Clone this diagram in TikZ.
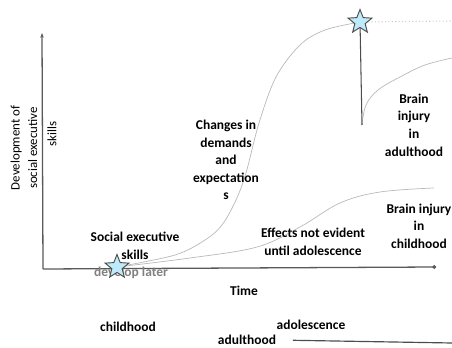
\documentclass[tikz,border=0pt]{standalone}
\usepackage{fontspec}
\setmainfont{Carlito}
\usetikzlibrary{shapes.geometric,arrows.meta,backgrounds}
\begin{document}
\begin{tikzpicture}[x=0.03cm,y=-0.03cm,
  lbl/.style={font=\fontsize{11.5}{15}\selectfont\bfseries, align=center, inner sep=0pt},
  curve/.style={gray!55, line width=0.6pt},
  axis/.style={gray!70!black, line width=1.1pt},
  bluestar/.style={star, star points=5, star point ratio=2.3, minimum size=0.75cm, inner sep=0pt,
                   draw=gray!60!black, fill=cyan!25, line width=0.8pt}]
\useasboundingbox (0,0) rectangle (452,348);
\node[bluestar] (starlow) at (117,267) {};
\node[bluestar] (startop) at (360,22) {};
\coordinate (origin) at (43,269);
\coordinate (ytop) at (42,33);
\coordinate (xend) at (436,267);
\coordinate (dip) at (362,125);
\coordinate (rightedge) at (452,21);
\coordinate (lineend) at (452,343);
\begin{scope}[on background layer]
\draw[axis, -{Stealth[length=4pt]}] (origin) -- (ytop);
\draw[axis, -{Circle[length=3pt]}] (origin) -- (xend);
\node[lbl, text=gray] (later) at (131,273) {develop later};
% curves
\draw[curve] plot[smooth, tension=0.55] coordinates {(starlow) (175,255) (205,240) (222,225) (236,200)
  (246,173) (259,123) (276,77) (300,45) (325,30) (startop)};
\draw[curve] plot[smooth, tension=0.6] coordinates {(starlow) (190,258) (257,247) (300,227) (340,203)
  (380,192) (434,188)};
\draw[curve] plot[smooth, tension=0.6] coordinates {(dip) (366,105) (378,90) (400,77) (425,65) (452,58)};
\draw[gray!40, dotted, line width=0.9pt] (startop) -- (rightedge);
\draw[gray!60!black, line width=0.9pt] (startop) -- (dip);
\end{scope}
% labels
\node[rotate=90, font=\fontsize{11}{15}\selectfont, align=center, inner sep=0pt] (ylab) at (24,148) {Development of\\social executive};
\node[rotate=90, font=\fontsize{11}{15}\selectfont, inner sep=0pt] (skills) at (52,134) {skills};
\node[lbl] (social) at (135,246) {Social executive\\skills};
\node[lbl] (changes) at (226,160) {Changes in\\demands\\and\\expectation\\s};
\node[lbl] (injadult) at (414,125) {Brain\\injury\\in\\adulthood};
\node[lbl] (injchild) at (419,226) {Brain injury\\in\\childhood};
\node[lbl] (effects) at (313,242) {Effects not evident\\until adolescence};
\node[lbl] (time) at (244,291) {Time};
\node[lbl] (childhood) at (128,327) {childhood};
\node[lbl] (adolescence) at (311,325) {adolescence};
\node[lbl] (adulthood) at (247,340) {adulthood};
\draw[gray!60!black, line width=1pt, shorten <=0.5cm] (adulthood.east) -- (lineend);
\end{tikzpicture}
\end{document}
